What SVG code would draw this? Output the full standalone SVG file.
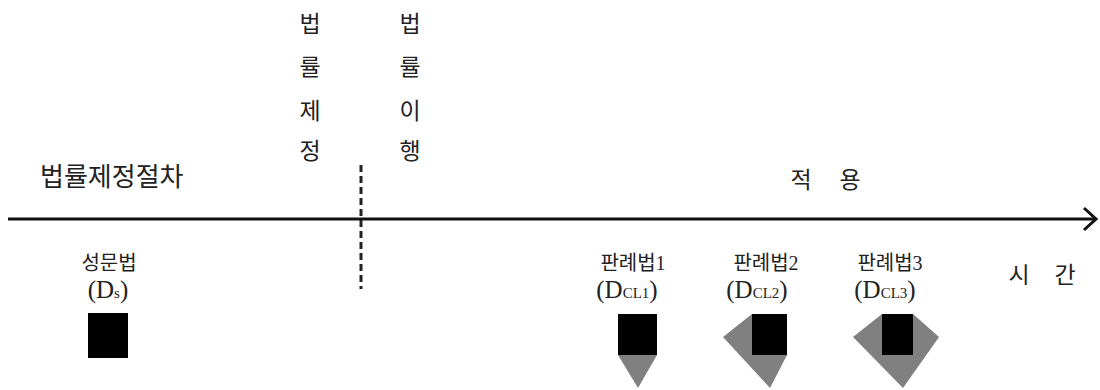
<svg xmlns="http://www.w3.org/2000/svg" width="1100" height="390" viewBox="0 0 1100 390">
<style>
.k{font-family:"Liberation Serif","Noto Sans CJK KR",serif;fill:#222}
.big{font-size:26px}
.v{font-size:23px;text-anchor:middle}
.lab{font-size:20px;text-anchor:middle}
.lat{font-size:25px;text-anchor:middle}
.sub{font-size:15px}
.blk{fill:#000}
.gry{fill:#808080}
</style>
<rect width="1100" height="390" fill="#fff"/>
<g id="connectors">
<line x1="8" y1="219" x2="1095" y2="219" stroke="#111" stroke-width="3"/>
<polyline points="1084,208 1096,219 1084,230" fill="none" stroke="#111" stroke-width="3"/>
<line x1="361" y1="165" x2="361" y2="289" stroke="#222" stroke-width="3" stroke-dasharray="7,4"/>
</g>
<g id="procedure">
<text class="k big" x="40" y="186">법률제정절차</text>
</g>
<g id="enactment">
<text class="k v" x="310" y="32">법</text>
<text class="k v" x="310" y="75">률</text>
<text class="k v" x="310" y="119">제</text>
<text class="k v" x="310" y="159">정</text>
</g>
<g id="enforcement">
<text class="k v" x="410" y="32">법</text>
<text class="k v" x="410" y="75">률</text>
<text class="k v" x="410" y="119">이</text>
<text class="k v" x="410" y="159">행</text>
</g>
<g id="application">
<text class="k v" x="801" y="188">적</text>
<text class="k v" x="850" y="188">용</text>
</g>
<g id="time">
<text class="k v" x="1019" y="283">시</text>
<text class="k v" x="1065" y="283">간</text>
</g>
<g id="statute">
<text class="k lab" x="109" y="270">성문법</text>
<text class="k lat" x="108" y="298">(D<tspan class="sub">s</tspan>)</text>
<rect class="blk" x="88" y="313" width="40" height="45"/>
</g>
<g id="caselaw1">
<text class="k lab" x="633" y="270">판례법1</text>
<text class="k lat" x="627" y="298">(D<tspan class="sub">CL1</tspan>)</text>
<polygon class="gry" points="618,355 657,355 638,388"/>
<rect class="blk" x="618" y="314" width="39" height="41"/>
</g>
<g id="caselaw2">
<text class="k lab" x="766" y="270">판례법2</text>
<text class="k lat" x="757" y="298">(D<tspan class="sub">CL2</tspan>)</text>
<polygon class="gry" points="752,314 723,337 770,388 787,355 787,314"/>
<rect class="blk" x="752" y="314" width="35" height="41"/>
</g>
<g id="caselaw3">
<text class="k lab" x="890" y="270">판례법3</text>
<text class="k lat" x="885" y="298">(D<tspan class="sub">CL3</tspan>)</text>
<polygon class="gry" points="882,314 853,337 903,388 939,337 913,314"/>
<rect class="blk" x="882" y="314" width="31" height="41"/>
</g>
</svg>
